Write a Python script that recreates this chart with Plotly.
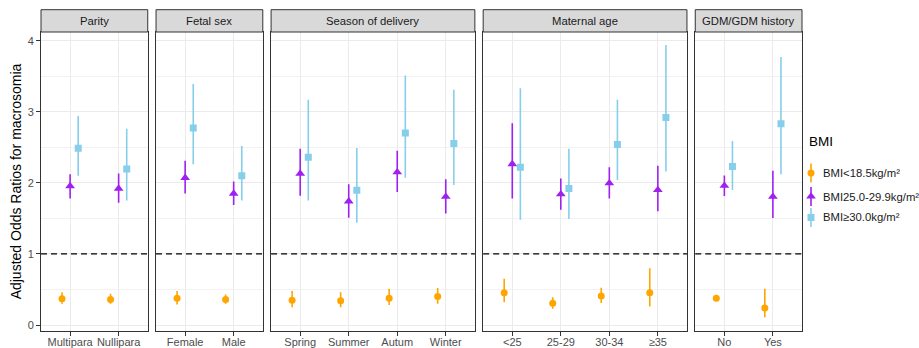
import plotly.graph_objects as go

panels = ["Parity", "Fetal sex", "Season of delivery", "Maternal age", "GDM/GDM history"]
categories = [
    ["Multipara", "Nullipara"],
    ["Female", "Male"],
    ["Spring", "Summer", "Autum", "Winter"],
    ["<25", "25-29", "30-34", "≥35"],
    ["No", "Yes"],
]

# BMI<18.5
under_or = [0.37, 0.36, 0.375, 0.36, 0.347, 0.34, 0.375, 0.40, 0.455, 0.305, 0.41, 0.455, 0.375, 0.24]
under_lo = [0.30, 0.30, 0.29, 0.30, 0.25, 0.25, 0.28, 0.30, 0.32, 0.23, 0.31, 0.26, 0.34, 0.11]
under_hi = [0.46, 0.44, 0.48, 0.43, 0.48, 0.46, 0.51, 0.52, 0.65, 0.39, 0.525, 0.80, 0.42, 0.51]
# BMI25.0-29.9
over_or = [1.955, 1.92, 2.07, 1.85, 2.13, 1.74, 2.15, 1.805, 2.265, 1.84, 1.995, 1.90, 1.96, 1.805]
over_lo = [1.78, 1.72, 1.85, 1.69, 1.82, 1.51, 1.87, 1.57, 1.78, 1.62, 1.78, 1.60, 1.815, 1.505]
over_hi = [2.12, 2.13, 2.31, 2.02, 2.48, 1.98, 2.45, 2.05, 2.84, 2.06, 2.22, 2.24, 2.105, 2.17]
# BMI>=30.0
obese_or = [2.485, 2.195, 2.77, 2.10, 2.36, 1.895, 2.70, 2.555, 2.22, 1.92, 2.54, 2.92, 2.23, 2.83]
obese_lo = [2.10, 1.75, 2.26, 1.75, 1.75, 1.44, 2.07, 1.97, 1.48, 1.49, 2.04, 2.16, 1.90, 2.12]
obese_hi = [2.94, 2.76, 3.39, 2.52, 3.17, 2.49, 3.51, 3.31, 3.33, 2.48, 3.17, 3.94, 2.59, 3.77]

legend_title = "BMI"
legend_labels = ["BMI<18.5kg/m²", "BMI25.0-29.9kg/m²", "BMI≥30.0kg/m²"]
colors = ["#FFA500", "#A020F0", "#87CEEB"]
symbols = ["circle", "triangle-up", "square"]
sizes = [7, 8.5, 7]
series = [(under_or, under_lo, under_hi), (over_or, over_lo, over_hi), (obese_or, obese_lo, obese_hi)]
dodge = [-1 / 6, 0.0, 1 / 6]

W, H = 919, 348
ML, MR, MT, MB = 41, 0, 32, 17
area_w = W - ML - MR          # full plotting width (panels + legend area)
area_h = H - MT - MB
panels_w = 761                 # width used by the facet panels
gap_px = 8.3
spans = [len(c) - 1 + 1.2 for c in categories]
unit = (panels_w - gap_px * (len(panels) - 1)) / sum(spans)

FONT = "Liberation Sans, Arial, sans-serif"
TICKFONT = dict(size=11, color="#4D4D4D")
fig = go.Figure()

domains = []
pos = 0.0
for s in spans:
    d0 = pos / area_w
    pos += s * unit
    domains.append([d0, pos / area_w])
    pos += gap_px

start = 0
for p, cats in enumerate(categories):
    n = len(cats)
    xa = "x" if p == 0 else f"x{p+1}"
    ya = "y" if p == 0 else f"y{p+1}"
    for g in range(3):
        orv, lo, hi = series[g]
        ys = orv[start:start + n]
        los = lo[start:start + n]
        his = hi[start:start + n]
        xs = [i + dodge[g] for i in range(n)]
        fig.add_trace(go.Scatter(
            x=xs, y=ys, mode="markers", name=legend_labels[g],
            showlegend=False, xaxis=xa, yaxis=ya,
            marker=dict(color=colors[g], symbol=symbols[g], size=sizes[g], line=dict(width=0)),
            error_y=dict(type="data", symmetric=False,
                         array=[h - v for h, v in zip(his, ys)],
                         arrayminus=[v - l for v, l in zip(ys, los)],
                         width=0, thickness=1.6, color=colors[g]),
            hoverinfo="skip",
        ))
    start += n

layout = dict(
    width=W, height=H,
    margin=dict(l=ML, r=MR, t=MT, b=MB, autoexpand=False),
    paper_bgcolor="white", plot_bgcolor="rgba(0,0,0,0)",
    font=dict(family=FONT, color="#4D4D4D", size=11),
    showlegend=False,
)

shapes = []
annotations = []
strip_h = 22.3 / area_h
for p, cats in enumerate(categories):
    n = len(cats)
    xk = "xaxis" if p == 0 else f"xaxis{p+1}"
    yk = "yaxis" if p == 0 else f"yaxis{p+1}"
    xa = "x" if p == 0 else f"x{p+1}"
    ya = "y" if p == 0 else f"y{p+1}"
    layout[xk] = dict(
        domain=domains[p], anchor=ya, range=[-0.6, n - 1 + 0.6],
        tickvals=list(range(n)), ticktext=cats, tickangle=0, automargin=False,
        showgrid=True, gridcolor="#EBEBEB", gridwidth=1.1, zeroline=False,
        showline=True, mirror=True, linecolor="#333333", linewidth=1,
        ticks="outside", ticklen=4, tickwidth=1, tickcolor="#333333",
        ticklabelstandoff=-3,
        tickfont=TICKFONT, fixedrange=True,
    )
    yd = dict(
        anchor=xa, domain=[0, 1], range=[-0.084, 4.122], automargin=False,
        tickvals=[0, 1, 2, 3, 4],
        showgrid=True, gridcolor="#EBEBEB", gridwidth=1.1, zeroline=False,
        minor=dict(dtick=0.5, tick0=0, showgrid=True, gridcolor="#F2F2F2", gridwidth=0.7),
        showline=True, mirror=True, linecolor="#333333", linewidth=1,
        fixedrange=True,
    )
    if p == 0:
        yd.update(ticks="outside", ticklen=4, tickwidth=1, tickcolor="#333333",
                  tickfont=TICKFONT,
                  title=dict(text="Adjusted Odds Ratios for macrosomia",
                             font=dict(size=14, color="#000000"), standoff=2))
    else:
        yd.update(matches="y", showticklabels=False, ticks="")
    layout[yk] = yd

    shapes.append(dict(type="line", xref=f"{xa} domain", yref=ya,
                       x0=0, x1=1, y0=1, y1=1,
                       line=dict(color="#000000", width=1.3, dash="6px,4px")))
    shapes.append(dict(type="rect", xref=f"{xa} domain", yref=f"{ya} domain",
                       x0=0, x1=1, y0=1, y1=1 + strip_h,
                       fillcolor="#D9D9D9", line=dict(color="#333333", width=1)))
    annotations.append(dict(text=panels[p], xref=f"{xa} domain", yref=f"{ya} domain",
                            x=0.5, y=1 + strip_h / 2, showarrow=False,
                            xanchor="center", yanchor="middle",
                            font=dict(size=11.3, color="#1A1A1A")))

# ---- ggplot-style legend (pointrange keys) in the right margin ----
def px_x(px):
    return (px - ML) / area_w

def px_y(py):
    return (H - MB - py) / area_h

key_x = 811
text_x = 821
key_y = [173, 196.5, 217.5]
key_half = 9.5
annotations.append(dict(text=legend_title, xref="paper", yref="paper",
                        x=px_x(807), y=px_y(141), xanchor="left", yanchor="middle",
                        showarrow=False, font=dict(size=13.5, color="#000000")))
for g in range(3):
    ax, ay = px_x(key_x), px_y(key_y[g])
    shapes.append(dict(type="line", xref="paper", yref="paper",
                       xsizemode="pixel", ysizemode="pixel", xanchor=ax, yanchor=ay,
                       x0=0, x1=0, y0=-key_half, y1=key_half,
                       line=dict(color=colors[g], width=1.6)))
    r = sizes[g] / 2
    if symbols[g] == "circle":
        shapes.append(dict(type="circle", xref="paper", yref="paper",
                           xsizemode="pixel", ysizemode="pixel", xanchor=ax, yanchor=ay,
                           x0=-r, x1=r, y0=-r, y1=r,
                           fillcolor=colors[g], line=dict(width=0)))
    elif symbols[g] == "square":
        shapes.append(dict(type="rect", xref="paper", yref="paper",
                           xsizemode="pixel", ysizemode="pixel", xanchor=ax, yanchor=ay,
                           x0=-r, x1=r, y0=-r, y1=r,
                           fillcolor=colors[g], line=dict(width=0)))
    else:
        rt = r * 2 / 3 ** 0.5
        path = f"M{-rt:.2f},{-r/2:.2f} L{rt:.2f},{-r/2:.2f} L0,{r:.2f} Z"
        shapes.append(dict(type="path", xref="paper", yref="paper",
                           xsizemode="pixel", ysizemode="pixel", xanchor=ax, yanchor=ay,
                           path=path, fillcolor=colors[g], line=dict(width=0)))
    annotations.append(dict(text=legend_labels[g], xref="paper", yref="paper",
                            x=px_x(text_x), y=px_y(key_y[g]), xanchor="left", yanchor="middle",
                            showarrow=False, font=dict(size=11.3, color="#1A1A1A")))

layout["shapes"] = shapes
layout["annotations"] = annotations
fig.update_layout(**layout)
fig.write_html("out.html")
